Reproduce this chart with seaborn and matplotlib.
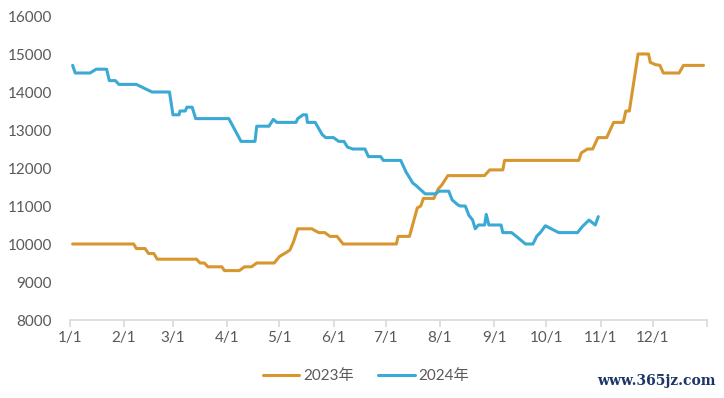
import matplotlib
matplotlib.use("Agg")
import matplotlib.pyplot as plt
import seaborn as sns
import pandas as pd

# ---- data (day of year, price) ----
days_2023 = [1.5, 36.5, 38, 43, 45, 48, 50, 72.5, 74.5, 77, 79, 87, 88.5, 97, 100, 104, 107, 117,
             120, 124, 126, 128, 130.5, 138.5, 142.5, 146, 149, 153, 156.5, 187, 188, 194.5,
             199, 201, 202.5, 208.5, 211, 213, 216.5, 237.5, 240.5, 248, 249, 291.5, 293, 296.5,
             299.5, 302.5, 307.5, 309.5, 311.5, 317, 318.5, 320.5, 325.5, 331.5, 332.5, 335.5,
             338, 340, 349, 351.5, 363]
vals_2023 = [10000, 10000, 9880, 9880, 9750, 9750, 9600, 9600, 9500, 9500, 9400, 9400, 9300, 9300,
             9400, 9400, 9500, 9500, 9670, 9780, 9840, 10050, 10400, 10400, 10300, 10300, 10200,
             10200, 10000, 10000, 10200, 10200, 10950, 11000, 11200, 11200, 11450, 11550, 11800,
             11800, 11950, 11950, 12200, 12200, 12400, 12500, 12500, 12800, 12800, 13000, 13200,
             13200, 13500, 13500, 15000, 15000, 14780, 14720, 14700, 14500, 14500, 14700, 14700]

days_2024 = [1.5, 3, 11.5, 15, 21, 22.5, 26, 28, 38, 47, 57, 59, 62.5, 63, 66, 67, 70, 72, 91, 98,
             106, 107, 114, 116.5, 118.5, 129.5, 130.5, 133.5, 135.5, 136, 140.5, 144.5, 146.5,
             151, 154, 157, 159, 162, 169, 171, 178, 179.5, 189.5, 192.5, 196.5, 198, 203.5, 209.5,
             211.5, 217, 219, 222, 223.5, 226.5, 228.5, 230.7, 232.2, 234, 237.6, 238.5, 240, 247,
             248, 253, 255.5, 261, 265.3, 267.5, 269.5, 272.4, 280, 290.8, 293.6, 297.4, 301,
             302.7]
vals_2024 = [14700, 14500, 14500, 14600, 14600, 14300, 14300, 14200, 14200, 14000, 14000, 13400,
             13400, 13500, 13500, 13600, 13600, 13300, 13300, 12700, 12700, 13100, 13100, 13280,
             13200, 13200, 13300, 13400, 13400, 13200, 13200, 12880, 12800, 12800, 12700, 12700,
             12550, 12500, 12500, 12300, 12300, 12200, 12200, 11900, 11600, 11550, 11320, 11320,
             11390, 11390, 11160, 11040, 11000, 11000, 10760, 10630, 10400, 10500, 10500, 10780,
             10500, 10500, 10300, 10300, 10210, 10000, 10000, 10210, 10300, 10480, 10300, 10300,
             10460, 10630, 10500, 10720]

series_names = ["2023年", "2024年"]
month_ticks = [0, 31, 59, 90, 120, 151, 181, 212, 243, 273, 304, 334, 365]
month_labels = ["1/1", "2/1", "3/1", "4/1", "5/1", "6/1", "7/1", "8/1", "9/1", "10/1", "11/1", "12/1", ""]
y_ticks = [8000, 9000, 10000, 11000, 12000, 13000, 14000, 15000, 16000]

df = pd.concat([
    pd.DataFrame({"day": days_2023, "price": vals_2023, "year": series_names[0]}),
    pd.DataFrame({"day": days_2024, "price": vals_2024, "year": series_names[1]}),
], ignore_index=True)

sns.set_theme(style="white")
plt.rcParams["font.family"] = ["Lato", "Noto Sans CJK SC", "DejaVu Sans"]

fig = plt.figure(figsize=(7.24, 3.98), dpi=100)
ax = fig.add_axes([70 / 724, 1 - 320 / 398, (707 - 70) / 724, (320 - 16) / 398])

palette = {series_names[0]: "#D8962F", series_names[1]: "#3BA9D5"}
sns.lineplot(data=df, x="day", y="price", hue="year", palette=palette, linewidth=2.2,
             ax=ax, legend=True, sort=False, estimator=None)

ax.set_xlim(0, 365)
ax.set_ylim(8000, 16000)
ax.set_xticks(month_ticks)
ax.set_xticklabels(month_labels)
ax.set_yticks(y_ticks)
ax.set_xlabel("")
ax.set_ylabel("")

for s in ["top", "right", "left"]:
    ax.spines[s].set_visible(False)
ax.spines["bottom"].set_color("#D9D9D9")
ax.spines["bottom"].set_linewidth(1.2)

ax.tick_params(axis="x", which="both", bottom=True, length=5, width=1.2, color="#D9D9D9",
               labelsize=11, labelcolor="#595959", pad=3)
ax.tick_params(axis="y", length=0, labelsize=11, labelcolor="#595959", pad=13)
ax.grid(False)

handles, labels = ax.get_legend_handles_labels()
ax.legend(handles, labels, loc="center", bbox_to_anchor=(366 / 724, 1 - 376 / 398),
          bbox_transform=fig.transFigure, ncol=2, frameon=False, fontsize=11,
          handlelength=2.4, handletextpad=0.25, columnspacing=1.6, labelcolor="#595959")

fig.text(716 / 724, 1 - 381 / 398, "www.365jz.com", ha="right", va="center",
         fontsize=10, color="#1C3468", family="DejaVu Serif", fontweight="bold")

fig.savefig("out.png", dpi=100)
